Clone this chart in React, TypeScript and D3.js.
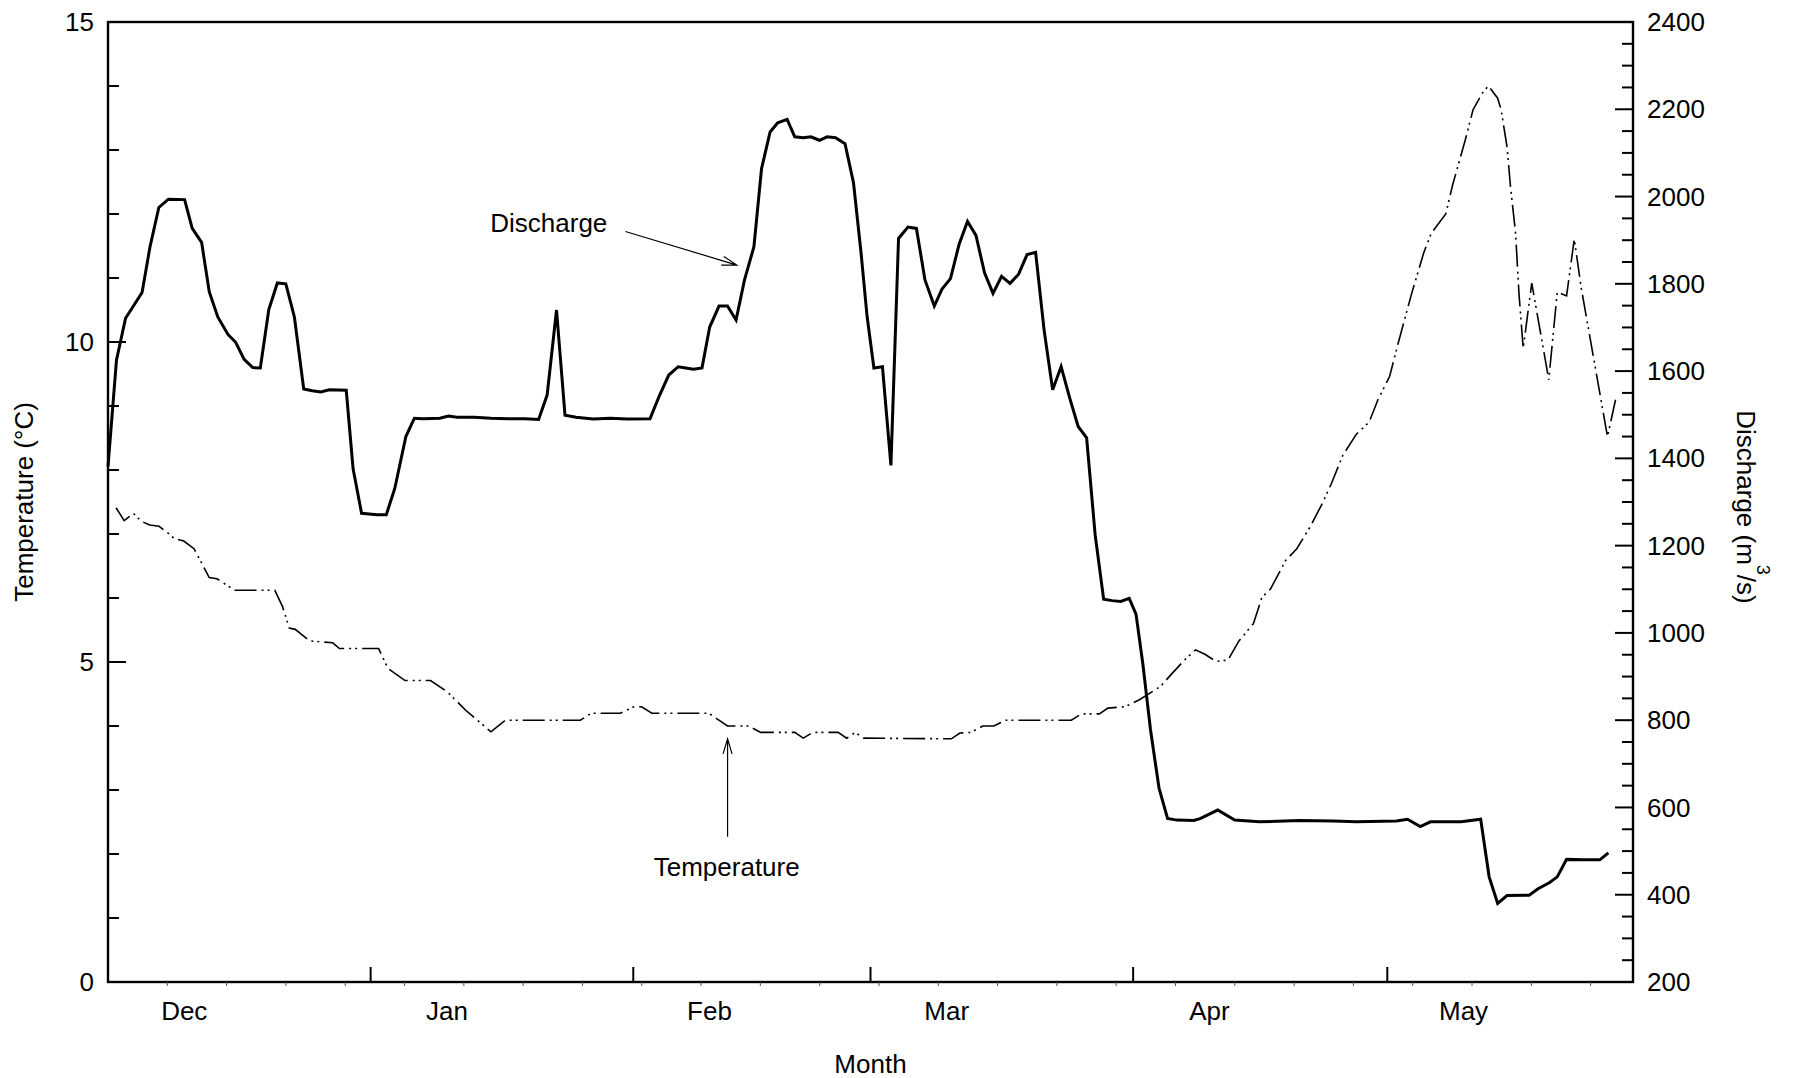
import React from "react";
import * as d3 from "d3";

// Day 0 = 1 December. Values at the visible vertices.
const dischargeDays = [
  0, 1.0, 2.07, 3.06, 4.02, 4.96, 6.0, 7.13, 9.04, 9.94, 11.05, 11.95, 12.96, 14.16, 15.07, 16.07, 17.08, 17.98,
  18.98, 19.99, 20.99, 22.0, 23.1, 24.11, 25.11, 26.12, 28.12, 28.93, 29.93, 31.74, 32.85, 33.85, 35.16, 36.16,
  37.17, 39.17, 40.18, 41.18, 43.19, 45.2, 47.21, 49.22, 50.83, 51.83, 52.94, 53.94, 55.25, 57.25, 59.26, 61.27,
  63.98, 65.09, 66.19, 67.3, 68.2, 69.11, 70.11, 71.02, 72.12, 73.12, 74.13, 75.13, 76.24, 77.14, 78.15, 79.05,
  80.16, 81.06, 82.06, 82.97, 83.97, 84.88, 85.88, 86.99, 87.99, 88.89, 89.6, 90.4, 91.41, 92.41, 93.31, 94.42,
  95.42, 96.43, 97.53, 98.44, 99.44, 100.45, 101.45, 102.45, 103.46, 104.46, 105.47, 106.47, 107.48, 108.48,
  109.49, 110.49, 111.5, 112.5, 113.5, 114.51, 115.51, 116.52, 117.52, 118.53, 119.53, 120.54, 121.34, 122.14,
  123.05, 124.05, 125.06, 126.16, 128.17, 128.97, 130.98, 132.99, 135.9, 140.62, 144.64, 147.35, 152.08, 153.38,
  154.89, 156.09, 159.71, 162.02, 163.02, 164.03, 165.13, 167.74, 168.75, 170.16, 171.06, 172.16, 174.17, 176.08,
  177.09,
];
const dischargeValues = [
  1381, 1625, 1721, 1751, 1780, 1885, 1975, 1994, 1993, 1927, 1895, 1782, 1724, 1684, 1666, 1627, 1608, 1607,
  1741, 1802, 1800, 1724, 1559, 1555, 1552, 1557, 1556, 1376, 1274, 1271, 1271, 1331, 1450, 1492,
  1491, 1492, 1497, 1494, 1494, 1492, 1491, 1491, 1489, 1545, 1740, 1499, 1494, 1490, 1492, 1490,
  1491, 1544, 1591, 1610, 1607, 1604, 1607, 1701, 1749, 1749, 1717, 1809, 1885, 2064, 2148, 2169,
  2177, 2137, 2135, 2137, 2129, 2137, 2135, 2121, 2032, 1870, 1725, 1607, 1610, 1384, 1904, 1930,
  1927, 1809, 1749, 1788, 1812, 1890, 1943, 1911, 1825, 1778, 1817, 1801, 1822, 1867,
  1872, 1694, 1557, 1610, 1539, 1473, 1447, 1224, 1077, 1074, 1072, 1079, 1043, 930,
  778, 645, 575, 571, 570, 575, 594, 571, 567, 570, 569, 567, 569, 573,
  556, 567, 567, 573, 441, 380, 398, 399, 413, 428, 441, 481, 480, 480,
  496,
];

const tempDays = [
  0.95, 1.91, 3.01, 3.92, 4.92, 6.03, 6.93, 7.83, 8.94, 10.15, 11.95, 12.86, 14.97, 19.69, 20.59, 21.4, 22.1, 23.81,
  26.52, 27.32, 31.94, 33.05, 35.06, 38.07, 40.08, 42.19, 45.2, 46.91, 55.75, 57.05, 60.47, 62.08, 62.98, 64.19,
  70.91, 73.12, 75.64, 77.04, 81.06, 82.06, 83.17, 86.18, 87.19, 88.19, 89.2, 99.54, 100.55, 101.85, 103.26, 104.56,
  105.97, 113.7, 114.91, 117.02, 118.02, 120.03, 121.74, 124.25, 125.66, 127.06, 128.37, 129.47, 130.78, 132.19,
  133.49, 135.2, 136.2, 137.21, 139.02, 140.32, 141.93, 143.34, 144.44, 145.75, 147.35, 148.86, 149.87, 151.27,
  152.18, 153.88, 155.29, 156.19, 157.9, 158.7, 160.21, 161.12, 162.22, 162.92, 164.03, 164.43, 165.13, 165.54,
  166.14, 166.54, 167.04, 168.05, 170.06, 171.06, 172.16, 173.07, 173.87, 176.99, 177.99,
];
const tempValues = [
  7.41, 7.21, 7.32, 7.2, 7.14, 7.12, 7.03, 6.93, 6.89, 6.77, 6.32, 6.3, 6.12, 6.12, 5.87, 5.53, 5.51, 5.33,
  5.3, 5.21, 5.21, 4.9, 4.71, 4.71, 4.53, 4.25, 3.91, 4.09, 4.09, 4.2, 4.2, 4.3, 4.3, 4.2,
  4.2, 4.0, 4.0, 3.9, 3.9, 3.81, 3.9, 3.9, 3.81, 3.9, 3.81, 3.8, 3.89, 3.9, 4.0, 4.0,
  4.09, 4.09, 4.19, 4.19, 4.28, 4.3, 4.41, 4.62, 4.83, 5.03, 5.19, 5.12, 5.01, 5.03,
  5.33, 5.6, 6.01, 6.14, 6.59, 6.77, 7.12, 7.48, 7.8, 8.23, 8.56, 8.75, 9.09, 9.46,
  9.93, 10.76, 11.39, 11.7, 12.0, 12.45, 13.16, 13.63, 13.89, 14.0, 13.81, 13.63, 13.05, 12.43,
  11.7, 10.76, 9.9, 10.92, 9.41, 10.78, 10.72, 11.61, 10.86, 8.52, 9.13,
];

const monthNames = ["Dec", "Jan", "Feb", "Mar", "Apr", "May"];
const monthStartDays = [0, 31, 62, 90, 121, 151];
const monthLabelOffset = 9;
const tempTicks = [0, 5, 10, 15];
const dischargeTicks = [200, 400, 600, 800, 1000, 1200, 1400, 1600, 1800, 2000, 2200, 2400];

const W = 1794;
const H = 1078;
const left = 108;
const right = 1633;
const top = 22;
const bottom = 982;
const font = "'Liberation Sans', Arial, Helvetica, sans-serif";

const arrowPath = (x1: number, y1: number, x2: number, y2: number, len = 15, half = 4.5) => {
  const a = Math.atan2(y2 - y1, x2 - x1);
  const bx = x2 - len * Math.cos(a);
  const by = y2 - len * Math.sin(a);
  const px = -Math.sin(a) * half;
  const py = Math.cos(a) * half;
  return `M${x1},${y1}L${x2},${y2}M${bx + px},${by + py}L${x2},${y2}L${bx - px},${by - py}`;
};

export default function App() {
  const x = d3.scaleLinear().domain([0, 180]).range([left, right]);
  const yT = d3.scaleLinear().domain([0, 15]).range([bottom, top]);
  const yQ = d3.scaleLinear().domain([200, 2400]).range([bottom, top]);

  const dischargeLine = d3
    .line<number>()
    .x((_, i) => x(dischargeDays[i]))
    .y((d) => yQ(d));
  const tempLine = d3
    .line<number>()
    .x((_, i) => x(tempDays[i]))
    .y((d) => yT(d));

  const weekTicks = d3.range(7, 180, 7);
  const tempMinor = d3.range(0, 16, 1);
  const dischargeMinor = d3.range(200, 2401, 50);

  // annotation anchors in data units
  const qArrow = arrowPath(x(61.07), yQ(1920), x(74.23), yQ(1843));
  const tArrow = arrowPath(x(73.13), yT(2.27), x(73.13), yT(3.8));

  return (
    <svg
      width={W}
      height={H}
      style={{ position: "absolute", left: 0, top: 0, background: "#fff" }}
      fontFamily={font}
      fontSize={26}
    >
      <rect x={0} y={0} width={W} height={H} fill="#fff" />

      {/* data */}
      <path
        d={tempLine(tempValues) || ""}
        fill="none"
        stroke="#000"
        strokeWidth={1.6}
        strokeDasharray="22 5 2 4 2 5"
      />
      <path
        d={dischargeLine(dischargeValues) || ""}
        fill="none"
        stroke="#000"
        strokeWidth={3}
        strokeLinejoin="miter"
      />

      {/* frame */}
      <rect
        x={left}
        y={top}
        width={right - left}
        height={bottom - top}
        fill="none"
        stroke="#000"
        strokeWidth={2.4}
      />

      {/* left axis ticks */}
      {tempMinor.map((v) => (
        <line
          key={"tl" + v}
          x1={left}
          x2={left + (v % 5 === 0 ? 18 : 11)}
          y1={yT(v)}
          y2={yT(v)}
          stroke="#000"
          strokeWidth={2}
        />
      ))}
      {tempTicks.map((v) => (
        <text key={"tt" + v} x={left - 14} y={yT(v)} dy="0.35em" textAnchor="end">
          {v}
        </text>
      ))}

      {/* right axis ticks */}
      {dischargeMinor.map((v) => (
        <line
          key={"ql" + v}
          x1={right}
          x2={right - (v % 200 === 0 ? 18 : 11)}
          y1={yQ(v)}
          y2={yQ(v)}
          stroke="#000"
          strokeWidth={2}
        />
      ))}
      {dischargeTicks.map((v) => (
        <text key={"qt" + v} x={right + 14} y={yQ(v)} dy="0.35em" textAnchor="start">
          {v}
        </text>
      ))}

      {/* bottom axis */}
      {weekTicks.map((d) => (
        <line key={"w" + d} x1={x(d)} x2={x(d)} y1={bottom} y2={bottom + 4} stroke="#555" strokeWidth={1} />
      ))}
      {monthStartDays.slice(1).map((d) => (
        <line key={"m" + d} x1={x(d)} x2={x(d)} y1={bottom} y2={bottom - 15} stroke="#000" strokeWidth={2} />
      ))}
      {monthNames.map((m, i) => (
        <text key={m} x={x(monthStartDays[i] + monthLabelOffset)} y={1020} textAnchor="middle">
          {m}
        </text>
      ))}

      {/* axis titles */}
      <text x={(left + right) / 2} y={1073} textAnchor="middle">
        Month
      </text>
      <text transform={`translate(33, ${(top + bottom) / 2}) rotate(-90)`} textAnchor="middle">
        Temperature (°C)
      </text>
      <text transform={`translate(1737, ${(top + bottom) / 2 + 5}) rotate(90)`} textAnchor="middle">
        Discharge (m
        <tspan fontSize={18} dy={-20}>
          3
        </tspan>
        <tspan dy={20}>/s)</tspan>
      </text>

      {/* annotations */}
      <text x={x(52.03)} y={yQ(1940) + 9} textAnchor="middle">
        Discharge
      </text>
      <path d={qArrow} fill="none" stroke="#000" strokeWidth={1.2} />
      <text x={x(73.03)} y={yT(1.65)} textAnchor="middle">
        Temperature
      </text>
      <path d={tArrow} fill="none" stroke="#000" strokeWidth={1.2} />
    </svg>
  );
}
